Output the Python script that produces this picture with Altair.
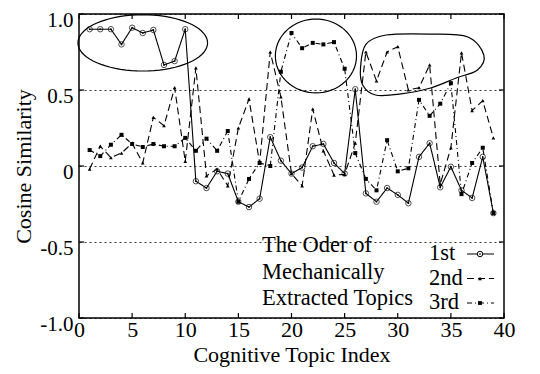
import altair as alt
import pandas as pd
import numpy as np

# ---------------- data ----------------
topic_index = list(range(1, 40))
first = [0.90, 0.90, 0.90, 0.80, 0.91, 0.875, 0.895, 0.665, 0.69, 0.90,
         -0.10, -0.145, -0.035, -0.05, -0.235, -0.27, -0.215, 0.19, 0.035, -0.05,
         -0.01, 0.13, 0.145, 0.02, -0.05, 0.505, -0.18, -0.235, -0.145, -0.19,
         -0.245, 0.06, 0.15, -0.14, -0.005, -0.16, -0.21, 0.06, -0.31]
second = [-0.02, 0.13, 0.055, 0.085, 0.15, 0.02, 0.32, 0.265, 0.515, 0.03,
          0.645, -0.065, -0.02, -0.13, 0.25, 0.44, 0.02, 0.75, 0.455, -0.05,
          -0.13, 0.375, 0.10, -0.06, -0.055, 0.15, 0.75, 0.56, 0.75, 0.785,
          0.50, 0.515, 0.665, -0.12, 0.12, 0.745, 0.365, 0.43, 0.185]
third = [0.105, 0.065, 0.14, 0.205, 0.145, 0.125, 0.145, 0.13, 0.13, 0.185,
         0.10, 0.18, 0.10, 0.23, -0.235, -0.085, 0.02, 0.0, 0.62, 0.875,
         0.775, 0.81, 0.80, 0.815, 0.64, 0.085, -0.085, -0.16, 0.17, -0.035,
         -0.015, 0.435, 0.33, 0.41, 0.545, -0.185, 0.02, 0.12, -0.31]
series_names = ["1st", "2nd", "3rd"]
legend_title_lines = ["The Oder of", "Mechanically", "Extracted Topics"]
x_ticks = list(range(0, 41, 5))
y_ticks = [-1.0, -0.5, 0.0, 0.5, 1.0]

# annotation outlines (data units)
ellipse_a = dict(cx=6.0, cy=0.81, rx=6.1, ry=0.185)
ellipse_b = dict(cx=22.3, cy=0.724, rx=3.82, ry=0.243)
blob_x = [26.5, 27.0, 28.9, 33.1, 36.6, 38.1, 37.5, 35.5, 33.1, 30.3, 27.9, 26.7]
blob_y = [0.651, 0.80, 0.862, 0.868, 0.849, 0.73, 0.632, 0.579, 0.513, 0.474, 0.467, 0.533]

FONT = "Liberation Serif"
FS = 22
W, H = 425, 304

df = pd.DataFrame({
    "x": topic_index * 3,
    "y": first + second + third,
    "s": [series_names[0]] * 39 + [series_names[1]] * 39 + [series_names[2]] * 39,
})

X = alt.X("x:Q", scale=alt.Scale(domain=[0, 40], nice=False, zero=False),
          axis=alt.Axis(values=x_ticks, title="Cognitive Topic Index", grid=False,
                        ticks=False, domain=False, labelFontSize=FS, titleFontSize=FS,
                        labelFont=FONT, titleFont=FONT, titleFontWeight="normal",
                        labelColor="black", titleColor="black", labelPadding=1,
                        titlePadding=4, labelFlush=False))
Y = alt.Y("y:Q", scale=alt.Scale(domain=[-1, 1], nice=False, zero=False),
          axis=alt.Axis(values=y_ticks, title="Cosine Similarity", grid=True,
                        gridDash=[2, 3], gridColor="black", gridWidth=0.8,
                        ticks=False, domain=False, labelFontSize=21, titleFontSize=FS,
                        labelFont=FONT, titleFont=FONT, titleFontWeight="normal",
                        labelColor="black", titleColor="black", labelPadding=6,
                        titlePadding=4, labelFlush=False,
                        labelBaseline="top", labelOffset=-5,
                        labelExpr="datum.value == 1 ? '1.0' : datum.value == 0.5 ? '0.5' : datum.value == 0 ? '0' : datum.value == -0.5 ? '-0.5' : '-1.0'"))

layers = []

# series lines and markers
dashes = {"1st": [1, 0], "2nd": [7, 4], "3rd": [5, 3, 1, 3]}
for name in series_names:
    base = alt.Chart(df).transform_filter(alt.datum.s == name)
    layers.append(base.mark_line(color="black", strokeWidth=1.1,
                                 strokeDash=dashes[name]).encode(x=X, y=Y, order="x:Q"))

base1 = alt.Chart(df).transform_filter(alt.datum.s == "1st")
layers.append(base1.mark_point(shape="circle", filled=False, size=30, color="black",
                               strokeWidth=1).encode(x=X, y=Y))
layers.append(base1.mark_point(shape="circle", filled=True, size=3, color="black",
                               opacity=1).encode(x=X, y=Y))
base2 = alt.Chart(df).transform_filter(alt.datum.s == "2nd")
layers.append(base2.mark_point(shape="triangle-up", filled=True, size=14, color="black",
                               opacity=1).encode(x=X, y=Y))
base3 = alt.Chart(df).transform_filter(alt.datum.s == "3rd")
layers.append(base3.mark_point(shape="square", filled=True, size=16, color="black",
                               opacity=1).encode(x=X, y=Y))

# annotation ellipses
t = np.linspace(0, 2 * np.pi, 73)
for e in (ellipse_a, ellipse_b):
    edf = pd.DataFrame({"x": e["cx"] + e["rx"] * np.cos(t),
                        "y": e["cy"] + e["ry"] * np.sin(t),
                        "o": np.arange(len(t))})
    layers.append(alt.Chart(edf).mark_line(color="black", strokeWidth=1.2)
                  .encode(x=X, y=Y, order="o:Q"))
bdf = pd.DataFrame({"x": blob_x, "y": blob_y, "o": range(len(blob_x))})
layers.append(alt.Chart(bdf).mark_line(color="black", strokeWidth=1.2,
                                       interpolate="cardinal-closed")
              .encode(x=X, y=Y, order="o:Q"))

# inward ticks
xt = pd.DataFrame({"x": x_ticks})
yt = pd.DataFrame({"y": y_ticks})
layers.append(alt.Chart(xt).mark_rule(color="black", strokeWidth=1.2)
              .encode(x=X, y=alt.value(H), y2=alt.value(H - 5)))
layers.append(alt.Chart(xt).mark_rule(color="black", strokeWidth=1.2)
              .encode(x=X, y=alt.value(0), y2=alt.value(5)))
layers.append(alt.Chart(yt).mark_rule(color="black", strokeWidth=1.2)
              .encode(y=Y, x=alt.value(0), x2=alt.value(5)))
layers.append(alt.Chart(yt).mark_rule(color="black", strokeWidth=1.2)
              .encode(y=Y, x=alt.value(W), x2=alt.value(W - 5)))

# legend (manual)
one = pd.DataFrame({"a": [0]})
for i, line in enumerate(legend_title_lines):
    layers.append(alt.Chart(one).mark_text(text=line, font=FONT, fontSize=22.5,
                                           align="left", baseline="alphabetic",
                                           color="black")
                  .encode(x=alt.value(183), y=alt.value(238 + 26.5 * i)))
marker_shapes = {"1st": "circle", "2nd": "triangle-up", "3rd": "square"}
for i, name in enumerate(series_names):
    yb = 246 + 24.5 * i
    ym = yb - 6
    layers.append(alt.Chart(one).mark_text(text=name, font=FONT, fontSize=22.5,
                                           align="left", baseline="alphabetic",
                                           color="black")
                  .encode(x=alt.value(350), y=alt.value(yb)))
    layers.append(alt.Chart(one).mark_rule(color="black", strokeWidth=1.1,
                                           strokeDash=dashes[name])
                  .encode(x=alt.value(388), x2=alt.value(415), y=alt.value(ym)))
    if name == "1st":
        layers.append(alt.Chart(one).mark_point(shape="circle", filled=True,
                                                fill="white", stroke="black",
                                                size=30, strokeWidth=1, opacity=1)
                      .encode(x=alt.value(401), y=alt.value(ym)))
        layers.append(alt.Chart(one).mark_point(shape="circle", filled=True, size=3,
                                                color="black", opacity=1)
                      .encode(x=alt.value(401), y=alt.value(ym)))
    else:
        layers.append(alt.Chart(one).mark_point(shape=marker_shapes[name], filled=True,
                                                size=15, color="black", opacity=1)
                      .encode(x=alt.value(401), y=alt.value(ym)))

chart = alt.layer(*layers).properties(
    width=W, height=H,
    autosize=alt.AutoSizeParams(type="none"),
    padding={"left": 71, "top": 6, "right": 28, "bottom": 50},
    background="white",
).configure_view(stroke="black", strokeWidth=1.5)

chart.save("out.html", embed_options={"renderer": "svg", "actions": False})
